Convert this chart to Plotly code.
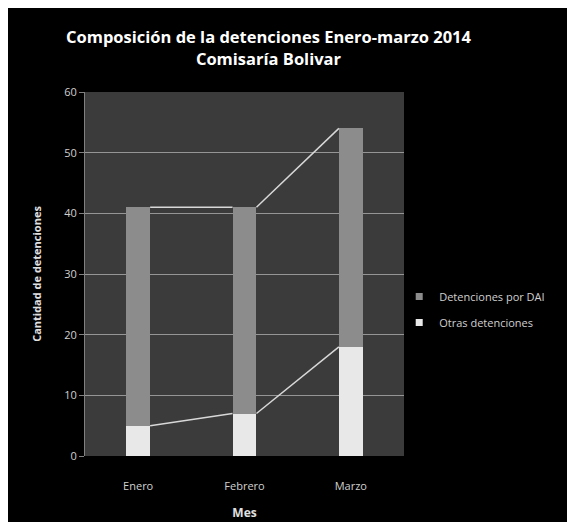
import plotly.graph_objects as go

categories = ["Enero", "Febrero", "Marzo"]
otras = [5, 7, 18]
dai = [36, 34, 36]
series_names = ["Otras detenciones", "Detenciones por DAI"]
series_colors = ["#e8e8e8", "#8c8c8c"]
y_ticks = [0, 10, 20, 30, 40, 50, 60]

BAR_W = 0.225
xs = list(range(len(categories)))
totals = [o + d for o, d in zip(otras, dai)]

fig = go.Figure()
for vals, name, col in zip((otras, dai), series_names, series_colors):
    fig.add_trace(go.Bar(x=xs, y=vals, width=BAR_W, name=name, showlegend=False,
                         marker=dict(color=col, line=dict(width=0))))

# series lines connecting the tops of each segment between bars
for vals in (otras, totals):
    lx, ly = [], []
    for i in range(len(xs) - 1):
        lx += [xs[i] + BAR_W / 2, xs[i + 1] - BAR_W / 2, None]
        ly += [vals[i], vals[i + 1], None]
    fig.add_trace(go.Scatter(x=lx, y=ly, mode="lines", showlegend=False,
                             hoverinfo="skip",
                             line=dict(color="#d8d8d8", width=1.5)))

# legend entries (small squares), top stack segment listed first
for name, col in zip(reversed(series_names), reversed(series_colors)):
    fig.add_trace(go.Scatter(x=[None], y=[None], mode="markers", name=name,
                             legendgroup=name,
                             marker=dict(symbol="square", size=7, color=col)))

fig.update_layout(
    width=575, height=522,
    barmode="stack",
    paper_bgcolor="black",
    plot_bgcolor="#3b3b3b",
    margin=dict(l=77, r=179, t=84, b=72),
    font=dict(family="Open Sans", color="#d0d0d0", size=11),
    title=dict(text="Composición de la detenciones Enero-marzo 2014<br>Comisaría Bolivar",
               xref="container", x=0.453, xanchor="center", y=0.932, yanchor="top",
               font=dict(family="Open Sans", size=16.5, color="white", weight="bold")),
    legend=dict(x=0.985, y=0.478, xanchor="left", yanchor="top",
                traceorder="grouped", bgcolor="rgba(0,0,0,0)",
                font=dict(size=11, color="#d0d0d0"), itemwidth=30,
                tracegroupgap=7),
    xaxis=dict(range=[-0.5, 2.5], tickmode="array", tickvals=xs, ticktext=categories,
               showgrid=False, zeroline=False, showline=False,
               ticks="outside", ticklen=20, tickcolor="rgba(0,0,0,0)",
               title=dict(text="Mes", font=dict(size=12, color="#e0e0e0", weight="bold"),
                          standoff=16),
               tickfont=dict(size=11, color="#d0d0d0")),
    yaxis=dict(range=[0, 60], tickmode="array", tickvals=y_ticks,
               showgrid=True, gridcolor="#959595", gridwidth=1, zeroline=False,
               showline=True, linecolor="#808080", ticks="outside", ticklen=5,
               tickcolor="#808080",
               title=dict(text="Cantidad de detenciones",
                          font=dict(size=11, color="#e0e0e0", weight="bold"), standoff=20),
               tickfont=dict(size=11, color="#d0d0d0")),
)

fig.write_html("out.html")
